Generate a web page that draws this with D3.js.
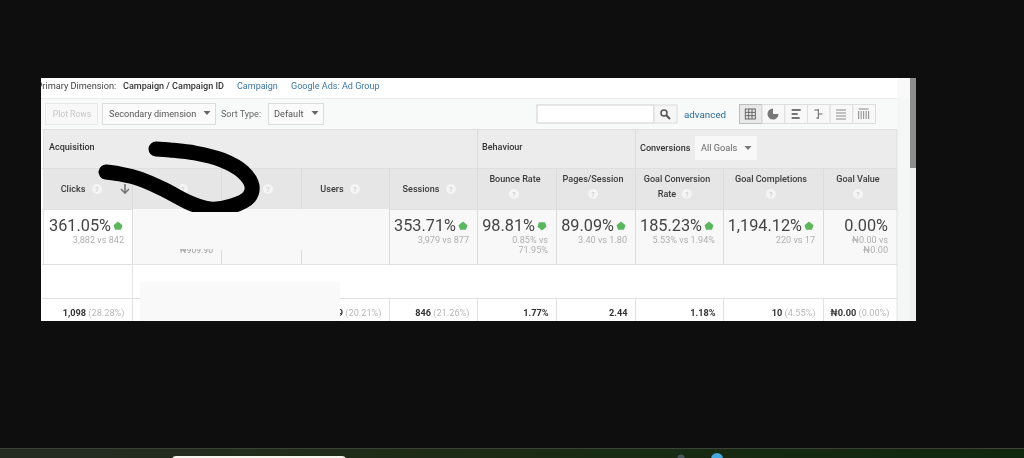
<!DOCTYPE html>
<html>
<head>
<meta charset="utf-8">
<script src="https://cdn.jsdelivr.net/npm/d3@7"></script>
<style>
html, body { margin: 0; padding: 0; background: #0e0e0e; overflow: hidden; }
svg { display: block; }
text { font-family: Roboto, "Liberation Sans", sans-serif; }
</style>
</head>
<body>
<svg id="chart" width="1024" height="458"></svg>
<script>
// table content
var columns = ["Clicks", "Cost", "CPC", "Users", "Sessions", "Bounce Rate", "Pages/Session", "Goal Conversion Rate", "Goal Completions", "Goal Value"];
var totals = ["361.05%", "", "", "", "353.71%", "98.81%", "89.09%", "185.23%", "1,194.12%", "0.00%"];
var totalsVs = ["3,882 vs 842", "", "", "", "3,979 vs 877", "0.85% vs|71.95%", "3.40 vs 1.80", "5.53% vs 1.94%", "220 vs 17", "₦0.00 vs|₦0.00"];
var totalsDir = ["up", "", "", "", "up", "down", "up", "up", "up", ""];
var rowValues = ["1,098", "", "", "9", "846", "1.77%", "2.44", "1.18%", "10", "₦0.00"];
var rowShares = ["(28.28%)", "", "", "(20.21%)", "(21.26%)", "", "", "", "(4.55%)", "(0.00%)"];
var viewIcons = ["table", "pie", "bars", "compare", "pivot", "lift"];

// column edges in page pixels
var columnEdges = [42, 132, 221, 301, 389, 477, 556, 635, 723, 823];
var tableRight = 897;
var x = d3.scaleOrdinal().domain(columns).range(columnEdges);
var rightOf = function(i){ return i < columns.length - 1 ? columnEdges[i + 1] : tableRight; };

var svg = d3.select("#chart");
var defs = svg.append("defs");
defs.append("filter").attr("id", "soft").attr("x", 0).attr("y", 0).attr("width", 1).attr("height", 1)
    .append("feGaussianBlur").attr("stdDeviation", 0.45);
defs.append("clipPath").attr("id", "panelClip").append("rect")
    .attr("x", 41).attr("y", 78).attr("width", 875).attr("height", 243);
defs.append("clipPath").attr("id", "scribbleClip").append("rect")
    .attr("x", 41).attr("y", 78).attr("width", 875).attr("height", 134);
defs.append("clipPath").attr("id", "sliverClip").append("rect")
    .attr("x", 133).attr("y", 249).attr("width", 180).attr("height", 4);

var panel = svg.append("g").attr("clip-path", "url(#panelClip)").attr("filter", "url(#soft)");

function box(g, x0, y0, w, h, fill, stroke){
    return g.append("rect").attr("x", x0).attr("y", y0).attr("width", w).attr("height", h)
        .attr("fill", fill).attr("stroke", stroke || "none");
}
function label(g, x0, y0, str, size, color, anchor, weight){
    return g.append("text").attr("x", x0).attr("y", y0).text(str)
        .attr("font-size", size).attr("fill", color)
        .attr("text-anchor", anchor || "start").attr("font-weight", weight || 400);
}
function caret(g, cx, cy, color){
    g.append("path").attr("d", d3.line()([[cx - 3.5, cy - 2], [cx + 3.5, cy - 2], [cx, cy + 2]]) + "Z").attr("fill", color || "#666");
}
function help(g, cx, cy){
    g.append("circle").attr("cx", cx).attr("cy", cy).attr("r", 5).attr("fill", "#f4f4f4");
    label(g, cx, cy + 2.6, "?", 7, "#c4c4c4", "middle");
}
function arrow(g, cx, cy, dir){
    var s = dir === "down" ? -1 : 1;
    var pts = [[cx, cy - 4.5 * s], [cx + 4.5, cy - 0.8 * s], [cx + 3, cy + 3.8 * s], [cx - 3, cy + 3.8 * s], [cx - 4.5, cy - 0.8 * s]];
    g.append("path").attr("d", d3.line()(pts) + "Z").attr("fill", "#5cb660");
}

// panel backgrounds
box(panel, 41, 78, 875, 243, "#ffffff");
box(panel, 897, 98, 13, 223, "#f5f6f6");
box(panel, 41, 98, 856, 31, "#f8f9f9");
box(panel, 910, 78, 6, 243, "#f0f0f0");
box(panel, 910, 78, 6, 90, "#8d8d8d");
box(panel, 897, 78, 13, 20, "#f9f9f9");
panel.append("line").attr("x1", 41).attr("x2", 897).attr("y1", 98.5).attr("y2", 98.5).attr("stroke", "#ececec");

// primary dimension strip
label(panel, 36.5, 89, "Primary Dimension:", 9.2, "#444");
label(panel, 123, 89, "Campaign / Campaign ID", 9.05, "#333", "start", 500);
label(panel, 237, 89, "Campaign", 9, "#3b78a8");
label(panel, 291, 89, "Google Ads: Ad Group", 9.05, "#3b78a8");

// toolbar
box(panel, 45.5, 103.5, 52, 21, "#f8f8f8", "#e8e8e8");
label(panel, 72, 117, "Plot Rows", 8.6, "#c6c6c6", "middle");
box(panel, 102.5, 103.5, 113, 21, "#fbfbfb", "#dcdcdc");
label(panel, 109, 117, "Secondary dimension", 9.1, "#555");
caret(panel, 207, 113);
label(panel, 221, 116.5, "Sort Type:", 9, "#666");
box(panel, 268.5, 103.5, 55, 21, "#fbfbfb", "#dcdcdc");
label(panel, 274, 116.5, "Default", 9.2, "#555");
caret(panel, 315, 113);
box(panel, 537, 105, 117, 18, "#ffffff", "#cfcfcf");
box(panel, 654, 105, 23, 18, "#f6f6f6", "#dcdcdc");
panel.append("circle").attr("cx", 664).attr("cy", 113).attr("r", 3).attr("fill", "none").attr("stroke", "#555").attr("stroke-width", 1.5);
panel.append("line").attr("x1", 666.5).attr("y1", 115.5).attr("x2", 670).attr("y2", 119).attr("stroke", "#555").attr("stroke-width", 2);
label(panel, 684, 117.5, "advanced", 9.8, "#2a6f9e");

// view switcher
var viewX = d3.scaleBand().domain(viewIcons).range([739, 875]);
viewIcons.forEach(function(icon, i){
    var bx = viewX(icon), cx = bx + viewX.bandwidth() / 2;
    box(panel, bx + 0.5, 104.5, viewX.bandwidth(), 19, i === 0 ? "#e9e9e9" : "#f8f8f8", i === 0 ? "#bdbdbd" : "#dedede");
    var g = panel.append("g").attr("stroke", "#666").attr("fill", "none");
    if (icon === "table") {
        g.append("rect").attr("x", cx - 5).attr("y", 109).attr("width", 10).attr("height", 10);
        d3.range(2).forEach(function(k){
            g.append("line").attr("x1", cx - 5 + (k + 1) * 10 / 3).attr("x2", cx - 5 + (k + 1) * 10 / 3).attr("y1", 109).attr("y2", 119);
            g.append("line").attr("y1", 109 + (k + 1) * 10 / 3).attr("y2", 109 + (k + 1) * 10 / 3).attr("x1", cx - 5).attr("x2", cx + 5);
        });
    } else if (icon === "pie") {
        g.append("path").attr("transform", "translate(" + cx + ",114)")
            .attr("d", d3.arc().innerRadius(0).outerRadius(5.5)({startAngle: Math.PI / 2, endAngle: Math.PI * 2}))
            .attr("fill", "#777").attr("stroke", "none");
    } else if (icon === "bars") {
        [9, 6, 8].forEach(function(w, k){
            g.append("line").attr("x1", cx - 4).attr("x2", cx - 4 + w).attr("y1", 110 + k * 4).attr("y2", 110 + k * 4).attr("stroke-width", 1.8);
        });
    } else if (icon === "compare") {
        [[-4, 0], [0, 4], [-2, 0]].forEach(function(r, k){
            g.append("line").attr("x1", cx + r[0]).attr("x2", cx + r[1]).attr("y1", 110 + k * 4).attr("y2", 110 + k * 4);
        });
        g.append("line").attr("x1", cx).attr("x2", cx).attr("y1", 109).attr("y2", 119);
    } else if (icon === "pivot") {
        [110, 113, 116, 119].forEach(function(yy){
            g.append("line").attr("x1", cx - 5).attr("x2", cx + 5).attr("y1", yy).attr("y2", yy).attr("stroke", "#888");
        });
    } else {
        d3.range(5).forEach(function(k){
            g.append("line").attr("x1", cx - 5 + k * 2.5).attr("x2", cx - 5 + k * 2.5).attr("y1", 111).attr("y2", 119).attr("stroke", "#888");
        });
        g.append("line").attr("x1", cx - 5).attr("x2", cx + 5).attr("y1", 109).attr("y2", 109).attr("stroke", "#888");
    }
});

// group header band
box(panel, 44, 129, 853, 39, "#ececec");
label(panel, 49, 150, "Acquisition", 9.05, "#333", "start", 500);
label(panel, 482, 150, "Behaviour", 9.05, "#333", "start", 500);
label(panel, 640, 151, "Conversions", 9.05, "#333", "start", 500);
box(panel, 695, 136, 62, 24, "#f8f8f8");
label(panel, 701, 151, "All Goals", 9.2, "#666");
caret(panel, 748, 148, "#777");

// column header band
box(panel, 44, 168, 853, 41, "#e6e6e6");
box(panel, 42, 209, 855, 55, "#f8f8f8");
box(panel, 42, 209, 90, 55, "#ffffff");
box(panel, 42, 264, 855, 57, "#ffffff");

// header text
var headerAt = {
    "Clicks": {lines: ["Clicks"], tx: 73, ty: 192, hx: 97, hy: 189},
    "Cost": {lines: [], tx: 0, ty: 0, hx: 183, hy: 189},
    "CPC": {lines: [], tx: 0, ty: 0, hx: 268, hy: 189},
    "Users": {lines: ["Users"], tx: 332, ty: 192, hx: 355, hy: 189},
    "Sessions": {lines: ["Sessions"], tx: 421, ty: 192, hx: 451, hy: 189},
    "Bounce Rate": {lines: ["Bounce Rate"], tx: 515, ty: 182, hx: 514, hy: 194},
    "Pages/Session": {lines: ["Pages/Session"], tx: 593, ty: 182, hx: 593, hy: 194},
    "Goal Conversion Rate": {lines: ["Goal Conversion", "Rate"], tx: 677, ty: 182, hx: 687, hy: 194},
    "Goal Completions": {lines: ["Goal Completions"], tx: 771, ty: 182, hx: 771, hy: 194},
    "Goal Value": {lines: ["Goal Value"], tx: 858, ty: 182, hx: 858, hy: 194}
};
columns.forEach(function(c){
    var h = headerAt[c];
    h.lines.forEach(function(line, k){
        var tx = (c === "Goal Conversion Rate" && k === 1) ? 667 : h.tx;
        label(panel, tx, h.ty + k * 15, line, 9.05, "#3a3a3a", "middle", 500);
    });
    help(panel, h.hx, h.hy);
});
// sort arrow
panel.append("path").attr("d", "M125 184V193M121 189L125 193L129 189").attr("fill", "none").attr("stroke", "#777").attr("stroke-width", 1.6);

// totals row
columns.forEach(function(c, i){
    if (!totals[i]) return;
    var edge = rightOf(i);
    var hasArrow = totalsDir[i] !== "";
    var bigEnd = hasArrow ? edge - 21 : edge - 9;
    label(panel, bigEnd, 231, totals[i], 16.3, "#444", "end");
    if (hasArrow) arrow(panel, edge - 14, 226, totalsDir[i]);
    totalsVs[i].split("|").forEach(function(line, k){
        label(panel, edge - (i === 9 ? 9 : 8), 243 + k * 10, line, 9.1, "#b0b0b0", "end");
    });
});

// data row
columns.forEach(function(c, i){
    if (!rowValues[i]) return;
    var edge = rightOf(i) - 7.5;
    var t = panel.append("text").attr("x", edge).attr("y", 316).attr("text-anchor", "end").attr("font-size", 9.2);
    t.append("tspan").attr("fill", "#333").attr("font-weight", 700).text(rowValues[i]);
    if (rowShares[i]) t.append("tspan").attr("fill", "#b8b8b8").text(" " + rowShares[i]);
});

// horizontal rules
[129, 168, 209, 264, 298].forEach(function(yy){
    panel.append("line").attr("x1", 42).attr("x2", 897).attr("y1", yy + 0.5).attr("y2", yy + 0.5).attr("stroke", "#dfdfdf");
});
// vertical rules
columns.forEach(function(c, i){
    var xx = x(c);
    if (i === 0) return;
    panel.append("line").attr("x1", xx + 0.5).attr("x2", xx + 0.5).attr("y1", 168).attr("y2", 264).attr("stroke", "#dcdcdc");
    panel.append("line").attr("x1", xx + 0.5).attr("x2", xx + 0.5).attr("y1", 298).attr("y2", 321).attr("stroke", "#e2e2e2");
});
[477, 635].forEach(function(xx){
    panel.append("line").attr("x1", xx + 0.5).attr("x2", xx + 0.5).attr("y1", 129).attr("y2", 168).attr("stroke", "#dcdcdc");
});
panel.append("line").attr("x1", 132.5).attr("x2", 132.5).attr("y1", 264).attr("y2", 298).attr("stroke", "#e4e4e4");
panel.append("line").attr("x1", 43.5).attr("x2", 43.5).attr("y1", 129).attr("y2", 264).attr("stroke", "#e4e4e4");
panel.append("line").attr("x1", 897).attr("x2", 897).attr("y1", 129).attr("y2", 321).attr("stroke", "#e2e2e2");

// redacted patches over the cost and cpc cells
box(panel, 133, 209, 256, 55, "#f8f8f8");
box(panel, 133, 264, 256, 1, "#e4e4e4");
panel.append("line").attr("x1", 221.5).attr("x2", 221.5).attr("y1", 250).attr("y2", 264).attr("stroke", "#dcdcdc");
panel.append("line").attr("x1", 301.5).attr("x2", 301.5).attr("y1", 250).attr("y2", 264).attr("stroke", "#dcdcdc");
panel.append("g").attr("clip-path", "url(#sliverClip)").append("text").attr("x", 213).attr("y", 253)
    .attr("text-anchor", "end").attr("font-size", 8.6).attr("fill", "#a0a0a0").text("₦909.90");
box(panel, 140, 282, 200, 39, "#f9f9f9");

// marker scribble
var scribble = [[106, 172], [120, 174], [140, 179], [165, 190], [190, 203], [210, 209], [232, 206], [249, 197], [252, 186], [243, 172], [222, 160], [195, 153], [170, 150], [156, 149]];
svg.append("g").attr("clip-path", "url(#scribbleClip)").append("path")
    .attr("d", d3.line().curve(d3.curveCatmullRom)(scribble))
    .attr("fill", "none").attr("stroke", "#000").attr("stroke-width", 15)
    .attr("stroke-linecap", "round").attr("stroke-linejoin", "round");

// strip at the bottom of the screen
var grad = defs.append("linearGradient").attr("id", "strip");
grad.append("stop").attr("offset", "0%").attr("stop-color", "#262b22");
grad.append("stop").attr("offset", "50%").attr("stop-color", "#1c2c14");
grad.append("stop").attr("offset", "100%").attr("stop-color", "#10270f");
box(svg, 0, 449, 1024, 9, "url(#strip)");
svg.append("line").attr("x1", 0).attr("x2", 1024).attr("y1", 448.5).attr("y2", 448.5).attr("stroke", "#3c4238");
svg.append("rect").attr("x", 172).attr("y", 456).attr("width", 174).attr("height", 8).attr("rx", 4).attr("fill", "#f4f6ee");
svg.append("circle").attr("cx", 681).attr("cy", 458).attr("r", 3.5).attr("fill", "#47555a");
svg.append("circle").attr("cx", 717).attr("cy", 459).attr("r", 6).attr("fill", "#45a8e0");
</script>
</body>
</html>
